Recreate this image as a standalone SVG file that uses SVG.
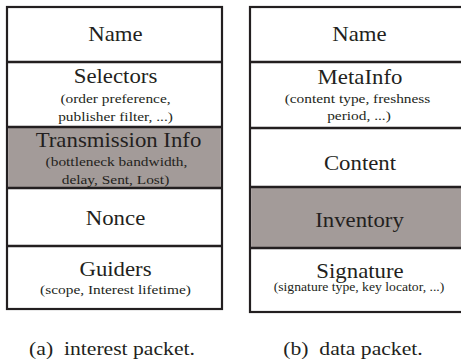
<svg xmlns="http://www.w3.org/2000/svg" width="461" height="361" viewBox="0 0 461 361">
<style>
.box{fill:#ffffff;stroke:#231f20;stroke-width:2.2}
.gray{fill:#a39b99}
.div{stroke:#231f20;stroke-width:2.4}
text{font-family:"Liberation Serif","Times New Roman",serif;fill:#231f20;text-anchor:middle}
.m{font-size:20px}
.s{font-size:13.5px}
.xs{font-size:12px}
.c{font-size:19px}
</style>
<rect width="461" height="361" fill="#ffffff"/>
<g id="interest-packet">
  <rect class="box" x="7" y="7" width="215" height="302"/>
  <rect class="gray" x="8.1" y="127" width="212.8" height="61"/>
  <line class="div" x1="7" y1="62" x2="222" y2="62"/>
  <line class="div" x1="7" y1="127" x2="222" y2="127"/>
  <line class="div" x1="7" y1="188" x2="222" y2="188"/>
  <line class="div" x1="7" y1="246" x2="222" y2="246"/>
  <g id="i-name"><text class="m" transform="translate(115.5 41) scale(1.14 1)">Name</text></g>
  <g id="i-selectors">
    <text class="m" transform="translate(115.5 83) scale(1.14 1)">Selectors</text>
    <text class="s" transform="translate(115.5 103) scale(1.14 1)">(order preference,</text>
    <text class="s" transform="translate(115.5 120.5) scale(1.14 1)">publisher filter, ...)</text>
  </g>
  <g id="i-transmission">
    <text class="m" transform="translate(118.5 147) scale(1.14 1)">Transmission Info</text>
    <text class="s" transform="translate(116.5 166) scale(1.14 1)">(bottleneck bandwidth,</text>
    <text class="s" transform="translate(115.5 183.5) scale(1.14 1)">delay, Sent, Lost)</text>
  </g>
  <g id="i-nonce"><text class="m" transform="translate(115.5 224.5) scale(1.14 1)">Nonce</text></g>
  <g id="i-guiders">
    <text class="m" transform="translate(115.5 276) scale(1.14 1)">Guiders</text>
    <text class="s" transform="translate(115.5 294) scale(1.14 1)">(scope, Interest lifetime)</text>
  </g>
  <text class="c" transform="translate(112 354.5) scale(1.14 1)" xml:space="preserve">(a)  interest packet.</text>
</g>
<g id="data-packet">
  <rect class="box" x="250" y="7" width="222" height="305"/>
  <rect class="gray" x="251.1" y="187" width="215" height="61"/>
  <line class="div" x1="250" y1="62" x2="472" y2="62"/>
  <line class="div" x1="250" y1="128" x2="472" y2="128"/>
  <line class="div" x1="250" y1="187" x2="472" y2="187"/>
  <line class="div" x1="250" y1="248" x2="472" y2="248"/>
  <g id="d-name"><text class="m" transform="translate(359.5 40.5) scale(1.14 1)">Name</text></g>
  <g id="d-metainfo">
    <text class="m" transform="translate(360 83.5) scale(1.14 1)">MetaInfo</text>
    <text class="s" transform="translate(357.5 102.5) scale(1.14 1)">(content type, freshness</text>
    <text class="s" transform="translate(359 120) scale(1.14 1)">period, ...)</text>
  </g>
  <g id="d-content"><text class="m" transform="translate(360 170) scale(1.14 1)">Content</text></g>
  <g id="d-inventory"><text class="m" transform="translate(359.5 227) scale(1.14 1)">Inventory</text></g>
  <g id="d-signature">
    <text class="m" transform="translate(360 278) scale(1.14 1)">Signature</text>
    <text class="xs" transform="translate(359 291) scale(1.14 1)">(signature type, key locator, ...)</text>
  </g>
  <text class="c" transform="translate(353 354.5) scale(1.14 1)" xml:space="preserve">(b)  data packet.</text>
</g>
<g id="connectors"/>
</svg>
